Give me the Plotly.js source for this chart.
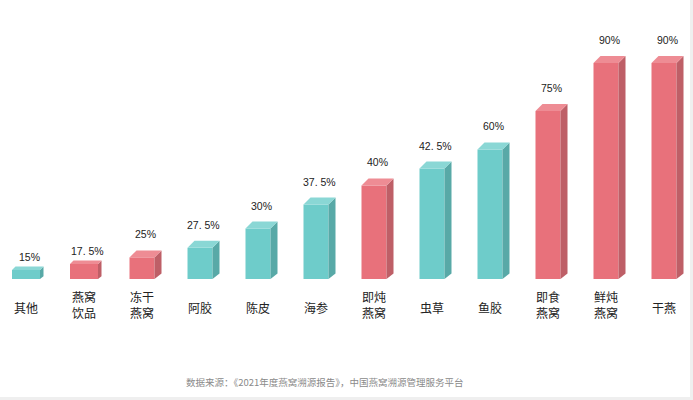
<!DOCTYPE html>
<html><head><meta charset="utf-8">
<script src="https://cdn.plot.ly/plotly-3.0.1.min.js"></script>
<style>html,body{margin:0;padding:0;background:#efefef;}#chart{width:690px;height:397px;background:#fff;}</style>
</head><body><div id="chart"></div>
<script>
// categories (<br> = line break in the label)
const categories = ['其他','燕窝<br>饮品','冻干<br>燕窝','阿胶','陈皮','海参','即炖<br>燕窝','虫草','鱼胶','即食<br>燕窝','鲜炖<br>燕窝','干燕'];
// share values shown in the labels (%)
const values = [15, 17.5, 25, 27.5, 30, 37.5, 40, 42.5, 60, 75, 90, 90];
// bar heights as drawn in the picture (same units as 90% bar = 90)
const barHeights = [3.75, 6.25, 9, 13, 21, 31, 39, 46, 54, 70, 90, 90];
// group: 1 = bird's nest product (red), 0 = other (teal)
const isNest = [0, 1, 1, 0, 0, 0, 1, 0, 0, 1, 1, 1];

const palette = {
  0: {front:'#6ECCCA', side:'#58A9A7', top:'#8AD7D5'},
  1: {front:'#E8717B', side:'#BE5F67', top:'#EE8C94'}
};

const W = 690, H = 397;
const mL = 0, mR = 0, mT = 20, mB = 118;
const pxPerX = 58, pxPerY = 2.4;
const x0 = -26 / pxPerX;
const xRange = [x0, x0 + (W - mL - mR) / pxPerX];
const yRange = [0, (H - mT - mB) / pxPerY];

// per-bar 3D look (pixels): the first two bars are flatter and wider in the picture
const frontPx = categories.map((_, i) => i < 2 ? 28 : 25);
const depthPx = categories.map((_, i) => i < 2 ? 3.5 : 7);

const xs = categories.map((_, i) => i);
const traces = [];
traces.push({
  type: 'bar', x: xs, y: barHeights, width: frontPx.map(p => p / pxPerX),
  marker: {color: isNest.map(g => palette[g].front), line: {width: 0}},
  hoverinfo: 'skip', showlegend: false
});
xs.forEach((x, i) => {
  const h = barHeights[i], c = palette[isNest[i]];
  const bw = frontPx[i] / pxPerX, dx = depthPx[i] / pxPerX, dy = depthPx[i] / pxPerY;
  const l = x - bw / 2, r = x + bw / 2;
  traces.push({
    type: 'scatter', mode: 'lines', fill: 'toself', fillcolor: c.side,
    x: [r, r + dx, r + dx, r, r], y: [0, dy * 0.8, h + dy, h, 0],
    line: {width: 0, color: c.side}, hoverinfo: 'skip', showlegend: false
  });
  traces.push({
    type: 'scatter', mode: 'lines', fill: 'toself', fillcolor: c.top,
    x: [l, r, r + dx, l + dx, l], y: [h, h, h + dy, h + dy, h],
    line: {width: 0, color: c.top}, hoverinfo: 'skip', showlegend: false
  });
});

const annotations = [];
xs.forEach((x, i) => {
  annotations.push({
    x: x + 3 / pxPerX, y: barHeights[i], xref: 'x', yref: 'y',
    text: String(values[i]).replace('.', '. ') + '%', showarrow: false,
    yshift: i < 2 ? 13 : 23, yanchor: 'middle', xanchor: 'center',
    font: {family: 'Liberation Sans, Arial, sans-serif', size: 10.5, color: '#222'}
  });
  const twoLine = categories[i].indexOf('<br>') >= 0;
  annotations.push({
    x: x, y: 0, xref: 'x', yref: 'paper', text: categories[i], showarrow: false,
    yshift: twoLine ? -25 : -28, yanchor: 'middle', xanchor: 'center', align: 'center',
    font: {family: 'Noto Sans CJK SC, sans-serif', size: 12, color: '#222'}
  });
});
annotations.push({
  x: 325 / W, y: 0, xref: 'paper', yref: 'paper', yshift: -103,
  text: '数据来源：《2021年度燕窝溯源报告》，中国燕窝溯源管理服务平台',
  showarrow: false, xanchor: 'center', yanchor: 'middle',
  font: {family: 'Noto Sans CJK SC, sans-serif', size: 9.5, color: '#8a8a8a'}
});

const layout = {
  width: W, height: H,
  margin: {l: mL, r: mR, t: mT, b: mB, pad: 0},
  paper_bgcolor: '#ffffff', plot_bgcolor: '#ffffff',
  xaxis: {range: xRange, showgrid: false, zeroline: false, showticklabels: false, ticks: '', showline: false, fixedrange: true},
  yaxis: {range: yRange, showgrid: false, zeroline: false, showticklabels: false, ticks: '', showline: false, fixedrange: true},
  annotations: annotations, showlegend: false
};
Plotly.newPlot('chart', traces, layout, {displayModeBar: false, staticPlot: true});
</script></body></html>
